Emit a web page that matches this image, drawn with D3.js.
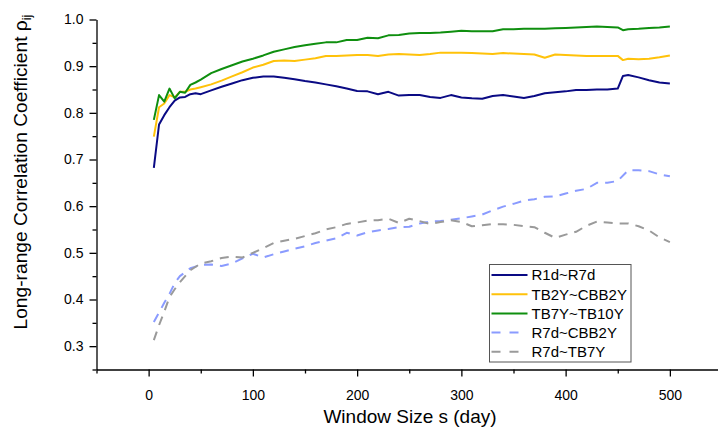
<!DOCTYPE html>
<html>
<head>
<meta charset="utf-8">
<script src="https://cdn.jsdelivr.net/npm/d3@7"></script>
<style>
  html, body { margin: 0; padding: 0; background: #fff; }
  svg { display: block; }
  text { font-family: "Liberation Sans", Arial, sans-serif; fill: #000; }
</style>
</head>
<body>
<svg id="chart" width="718" height="434"></svg>
<script>
// ---------- data ----------
const xSolid = [5,10,15,20,25,30,35,40,45,50,60,70,80,90,100,110,120,130,140,150,160,170,180,190,200,210,220,230,240,250,260,270,280,290,300,310,320,330,340,350,360,370,380,390,400,410,420,430,440,450,455,460,470,480,490,500];
const r1dR7d = [0.682,0.775,0.795,0.812,0.826,0.833,0.834,0.840,0.842,0.840,
  0.848,0.856,0.863,0.870,0.875,0.878,0.878,0.875,0.872,0.868,
  0.865,0.861,0.857,0.852,0.847,0.846,0.840,0.845,0.837,0.838,
  0.838,0.834,0.832,0.838,0.833,0.831,0.830,0.836,0.838,0.835,
  0.832,0.836,0.842,0.844,0.846,0.849,0.849,0.850,0.850,0.852,
  0.879,0.881,0.876,0.870,0.865,0.863];
const tb2yCbb2y = [0.749,0.812,0.820,0.838,0.833,0.845,0.845,0.850,0.852,0.855,
  0.861,0.869,0.878,0.887,0.897,0.903,0.911,0.912,0.911,0.914,
  0.917,0.922,0.922,0.923,0.924,0.924,0.922,0.925,0.926,0.925,
  0.924,0.926,0.929,0.929,0.929,0.928,0.927,0.926,0.928,0.927,
  0.926,0.925,0.918,0.925,0.924,0.923,0.922,0.922,0.922,0.922,
  0.913,0.916,0.915,0.916,0.919,0.923];
const tb7yTb10y = [0.785,0.838,0.824,0.852,0.831,0.845,0.843,0.860,0.865,0.871,
  0.885,0.894,0.902,0.910,0.916,0.923,0.931,0.936,0.941,0.945,
  0.948,0.951,0.951,0.956,0.956,0.961,0.960,0.966,0.967,0.970,
  0.971,0.971,0.972,0.974,0.976,0.975,0.975,0.975,0.979,0.979,
  0.980,0.980,0.980,0.981,0.982,0.983,0.984,0.985,0.984,0.983,
  0.977,0.979,0.980,0.982,0.983,0.985];

const xDash = [5,10,15,20,25,30,40,50,60,70,80,90,100,110,120,130,140,150,160,170,180,190,200,210,220,230,240,250,260,270,280,290,300,310,320,330,340,350,360,370,380,390,400,410,420,430,440,450,460,470,480,490,500];
const r7dCbb2y = [0.352,0.372,0.393,0.412,0.435,0.450,0.467,0.474,0.475,0.472,
  0.477,0.488,0.498,0.490,0.497,0.503,0.509,0.514,0.521,0.526,
  0.531,0.543,0.537,0.544,0.548,0.551,0.555,0.556,0.563,0.567,
  0.568,0.571,0.574,0.578,0.582,0.591,0.599,0.605,0.612,0.615,
  0.620,0.621,0.627,0.633,0.637,0.650,0.650,0.654,0.677,0.677,
  0.675,0.668,0.664];
const r7dTb7y = [0.313,0.345,0.374,0.405,0.422,0.437,0.463,0.477,0.482,0.489,
  0.492,0.490,0.500,0.510,0.521,0.526,0.530,0.536,0.542,0.550,
  0.555,0.562,0.565,0.569,0.570,0.573,0.564,0.573,0.568,0.562,
  0.566,0.570,0.566,0.557,0.559,0.562,0.561,0.560,0.557,0.555,
  0.543,0.532,0.539,0.545,0.558,0.567,0.565,0.563,0.563,0.557,
  0.548,0.533,0.523];

const seriesNames = ["R1d~R7d","TB2Y~CBB2Y","TB7Y~TB10Y","R7d~CBB2Y","R7d~TB7Y"];
const xMajorTicks = [0,100,200,300,400,500];
const xMinorTicks = [-50,50,150,250,350,450,550];
const yMajorTicks = [0.3,0.4,0.5,0.6,0.7,0.8,0.9,1.0];
const yMinorTicks = [0.25,0.35,0.45,0.55,0.65,0.75,0.85,0.95];

// ---------- chart ----------
const svg = d3.select("#chart");
const x = d3.scaleLinear().domain([-50, 550]).range([96.5, 722]);
const y = d3.scaleLinear().domain([0.25, 1.0]).range([369.5, 19.5]);

const series = [
  {name: seriesNames[0], xs: xSolid, ys: r1dR7d,    color: "#0a0a84", dash: null},
  {name: seriesNames[1], xs: xSolid, ys: tb2yCbb2y, color: "#ffc20a", dash: null},
  {name: seriesNames[2], xs: xSolid, ys: tb7yTb10y, color: "#0f8f0f", dash: null},
  {name: seriesNames[3], xs: xDash,  ys: r7dCbb2y,  color: "#8a9bff", dash: "9,7"},
  {name: seriesNames[4], xs: xDash,  ys: r7dTb7y,   color: "#9a9a9a", dash: "9,7"}
];

// axes
const gx = svg.append("g").attr("transform", "translate(0,369.5)");
gx.call(d3.axisBottom(x).tickValues(xMajorTicks).tickSize(7).tickSizeOuter(0).tickPadding(14).tickFormat(d3.format("d")));
gx.append("g").call(d3.axisBottom(x).tickValues(xMinorTicks).tickSize(4).tickSizeOuter(0).tickFormat(""))
  .select(".domain").remove();
gx.selectAll("text").attr("font-size", 14).attr("font-family", "Liberation Sans, Arial, sans-serif").attr("fill", "#000");

const gy = svg.append("g").attr("transform", "translate(96.5,0)");
gy.call(d3.axisLeft(y).tickValues(yMajorTicks).tickSize(7).tickSizeOuter(0).tickPadding(6).tickFormat(d3.format(".1f")));
gy.append("g").call(d3.axisLeft(y).tickValues(yMinorTicks).tickSize(4).tickSizeOuter(0).tickFormat(""))
  .select(".domain").remove();
gy.selectAll("text").attr("font-size", 14).attr("font-family", "Liberation Sans, Arial, sans-serif").attr("fill", "#000");
svg.selectAll(".domain, .tick line").attr("stroke", "#000").attr("stroke-width", 1.3);

// lines
const line = d3.line().x(d => x(d[0])).y(d => y(d[1]));
series.forEach(s => {
  const pts = s.xs.map((v, i) => [v, s.ys[i]]);
  svg.append("path")
    .datum(pts)
    .attr("d", line)
    .attr("fill", "none")
    .attr("stroke", s.color)
    .attr("stroke-width", 2)
    .attr("stroke-linejoin", "round")
    .attr("stroke-dasharray", s.dash);
});

// axis titles
svg.append("text")
  .attr("x", 410).attr("y", 423)
  .attr("text-anchor", "middle")
  .attr("font-size", 19)
  .text("Window Size s (day)");

const yt = svg.append("text")
  .attr("transform", "translate(27,172) rotate(-90)")
  .attr("text-anchor", "middle")
  .attr("font-size", 19.2);
yt.append("tspan").text("Long-range Correlation Coefficient ρ");
yt.append("tspan").attr("font-size", 13).attr("dy", 4).text("ij");

// legend
const lg = svg.append("g").attr("transform", "translate(489.5,264.5)");
lg.append("rect").attr("width", 141.5).attr("height", 97.5)
  .attr("fill", "#fff").attr("stroke", "#555").attr("stroke-width", 1);
series.forEach((s, i) => {
  const cy = 10.5 + i * 19.2;
  lg.append("line").attr("x1", 2).attr("x2", 38).attr("y1", cy).attr("y2", cy)
    .attr("stroke", s.color).attr("stroke-width", 2)
    .attr("stroke-dasharray", s.dash ? "9,9" : null);
  lg.append("text").attr("x", 42).attr("y", cy).attr("dy", "0.36em")
    .attr("font-size", 15).text(s.name);
});
</script>
</body>
</html>
